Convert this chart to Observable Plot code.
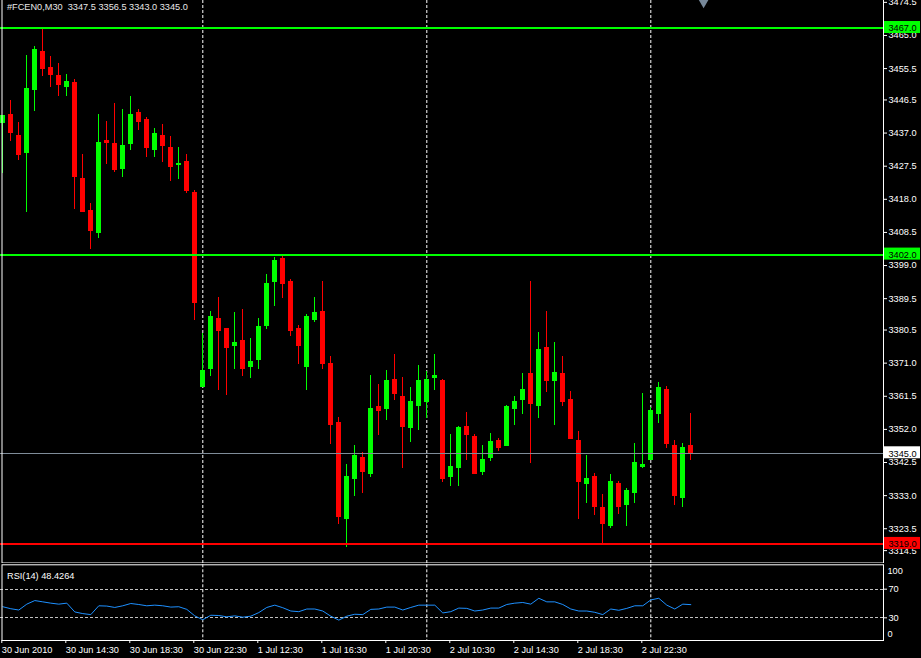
<!DOCTYPE html>
<html><head><meta charset="utf-8">
<script src="https://cdn.jsdelivr.net/npm/d3@7"></script>
<script src="https://cdn.jsdelivr.net/npm/@observablehq/plot@0.6"></script>
<style>
html,body{margin:0;padding:0;background:#000;}
#chart{width:921px;height:658px;background:#000;overflow:hidden;}
#chart svg{display:block;}
</style></head><body><div id="chart"></div>
<script>
// ---------- data ----------
const symbol = "#FCEN0,M30";
const opens = [3439.8,3442.3,3436.3,3431.1,3449.2,3460.4,3455.8,3453.5,3450.1,3451.5,
  3424.0,3414.8,3408.2,3434.9,3434.0,3426.6,3433.7,3442.9,3440.9,3432.0,
  3436.3,3432.9,3427.7,3428.8,3420.0,3364.0,3369.2,3383.8,3380.9,3375.8,
  3377.5,3369.8,3371.8,3381.5,3394.1,3401.0,3394.4,3380.9,3369.8,3383.2,
  3385.8,3370.9,3354.0,3326.2,3337.6,3343.9,3339.1,3358.6,3357.7,3366.3,
  3361.4,3352.3,3358.6,3359.8,3366.6,3366.0,3338.2,3340.8,3352.8,3350.0,
  3339.6,3343.7,3348.8,3347.1,3357.7,3360.3,3368.0,3358.6,3375.5,3365.7,
  3368.0,3360.6,3348.8,3336.2,3338.5,3329.6,3324.2,3336.5,3330.2,3333.6,
  3341.1,3343.1,3356.3,3363.4,3347.4,3332.2,3347.5];
const highs = [3442.0,3446.3,3440.0,3459.3,3461.8,3466.6,3459.0,3457.0,3453.8,3452.4,
  3430.9,3416.8,3442.3,3440.3,3445.5,3443.8,3447.5,3443.8,3441.5,3438.3,
  3439.5,3436.0,3432.9,3430.9,3420.4,3379.5,3385.8,3389.8,3381.0,3385.5,
  3386.4,3378.1,3383.8,3396.4,3401.3,3401.6,3395.0,3381.8,3385.0,3389.8,
  3394.4,3372.9,3355.4,3341.9,3347.4,3345.4,3367.5,3364.9,3368.9,3373.5,
  3366.9,3364.0,3370.3,3368.6,3373.5,3366.3,3350.5,3352.8,3356.9,3350.5,
  3347.4,3350.8,3349.4,3358.9,3361.4,3368.0,3394.4,3379.8,3385.8,3376.9,
  3372.9,3362.9,3351.4,3344.5,3339.4,3333.3,3339.1,3337.1,3335.1,3348.0,
  3362.3,3358.3,3365.5,3364.3,3348.8,3347.9,3356.5];
const lows = [3425.3,3434.6,3429.1,3414.3,3443.3,3453.2,3450.1,3447.5,3447.5,3415.1,
  3414.2,3403.6,3406.8,3428.0,3425.7,3424.3,3432.0,3437.7,3430.0,3430.0,
  3428.6,3423.1,3423.7,3419.7,3383.2,3364.0,3367.2,3363.2,3361.7,3369.2,
  3367.2,3366.6,3369.2,3380.7,3387.3,3389.6,3378.7,3370.6,3363.2,3382.7,
  3369.2,3347.7,3324.7,3318.1,3332.8,3333.6,3338.2,3350.3,3354.6,3360.3,
  3340.8,3348.2,3351.7,3355.2,3363.2,3336.8,3335.6,3335.6,3343.1,3339.0,
  3338.8,3342.8,3345.7,3347.1,3353.1,3356.3,3342.2,3355.1,3362.6,3353.1,
  3358.6,3349.1,3326.2,3330.7,3327.3,3319.0,3323.6,3327.6,3324.2,3330.7,
  3340.8,3343.1,3353.7,3346.5,3330.2,3329.6,3343.0];
const closes = [3442.0,3436.8,3430.6,3449.8,3461.0,3455.2,3453.5,3450.6,3451.8,3424.3,
  3414.2,3408.8,3434.3,3434.0,3426.3,3433.4,3442.3,3440.0,3432.6,3436.9,
  3433.1,3427.1,3428.3,3420.2,3388.1,3368.9,3384.4,3380.1,3375.2,3376.9,
  3369.2,3371.5,3381.5,3393.9,3400.5,3393.6,3380.1,3375.8,3384.4,3385.5,
  3370.6,3353.1,3326.7,3338.5,3344.5,3339.6,3358.0,3357.1,3366.0,3362.0,
  3352.6,3360.0,3366.0,3366.3,3367.5,3337.6,3341.4,3352.5,3350.3,3339.1,
  3343.4,3348.5,3346.5,3358.6,3360.0,3363.4,3359.1,3374.9,3365.7,3368.3,
  3359.7,3349.1,3336.8,3337.9,3329.6,3324.7,3337.1,3329.6,3334.5,3342.5,
  3341.9,3357.4,3364.0,3347.7,3332.7,3346.8,3345.0];
const rsiValues = [45.5,42.7,40.9,49.1,54.1,52.3,50.5,49.1,50.5,38.2,
  35.9,34.5,46.8,46.4,44.5,46.8,50.0,48.6,46.8,47.7,
  46.8,45.0,45.5,41.8,32.7,27.3,33.6,33.2,31.4,32.7,
  30.9,32.3,37.3,44.5,47.7,44.1,39.5,38.6,42.3,42.3,
  39.5,32.3,26.8,32.3,35.0,34.5,41.8,42.3,45.0,45.0,
  40.9,44.5,47.7,47.7,47.7,36.8,38.6,43.6,43.2,39.5,
  40.9,43.6,43.6,48.6,50.5,51.4,49.1,57.3,52.3,52.3,
  48.6,42.3,39.5,39.5,37.7,34.5,42.3,40.5,43.2,46.8,
  46.8,55.0,57.3,47.7,42.3,49.1,48.4];
const rsiPeriod = 14;
const rsiLastExact = "48.4264";
const timeTickBars = [0,8,16,24,32,40,48,56,64,72,80];
const timeTickLabels = ["30 Jun 2010","30 Jun 14:30","30 Jun 18:30","30 Jun 22:30","1 Jul 12:30",
  "1 Jul 16:30","1 Jul 20:30","2 Jul 10:30","2 Jul 14:30","2 Jul 18:30","2 Jul 22:30"];
const priceTicks = [3474.5,3465.0,3455.5,3446.5,3437.0,3427.5,3418.0,3408.5,3399.0,
  3389.5,3380.5,3371.0,3361.5,3352.0,3342.5,3333.0,3323.5];
const priceBottomLabel = [3314.5];
const resistanceLevels = [3467.0, 3402.0];
const supportLevels = [3319.0];
const daySeparatorBars = [25, 53, 81];
const rsiLevels = [70, 30];
const rsiTopLabel = [100];
const rsiBottomLabel = [0];
const shiftMarkerBar = [87.6];

// ---------- derived ----------
const bars = opens.map((o, i) => ({i, open: o, high: highs[i], low: lows[i], close: closes[i]}));
const last = bars[bars.length - 1];
const bid = [last.close];
const rsi = rsiValues.map((v, i) => ({i, v}));
const GREEN = "#00ff00", RED = "#ff0000";
const colorOf = d => d.close >= d.open ? GREEN : RED;
const fmt1 = d => d.toFixed(1);
const labelOf = new Map(timeTickBars.map((b, j) => [b, timeTickLabels[j]]));

const W = 921, MR = 38;
const barPx = 8, firstBarPx = 2.3;
const xDomain = [-firstBarPx / barPx, (W - MR - firstBarPx) / barPx];
const FONT = {background: "#000", color: "#fff", fontFamily: "Liberation Sans, Arial, sans-serif", fontSize: "9.2px"};

const mainH = 563;
const main = Plot.plot({
  width: W, height: mainH,
  marginLeft: 0, marginRight: MR, marginTop: 0, marginBottom: 0,
  style: FONT,
  x: {domain: xDomain, axis: null, label: null},
  y: {domain: [3313.53, 3475.03], label: null},
  marks: [
    Plot.ruleX(daySeparatorBars, {x: d => d, stroke: "#fff", strokeDasharray: "3,2"}),
    Plot.ruleX(bars, {x: "i", y1: "low", y2: "high", stroke: colorOf, shapeRendering: "crispEdges"}),
    Plot.rect(bars, {x1: d => d.i - 0.31, x2: d => d.i + 0.31, y1: "open", y2: "close", fill: colorOf, shapeRendering: "crispEdges"}),
    Plot.ruleY(bid, {y: d => d, stroke: "#7f8c99", shapeRendering: "crispEdges"}),
    Plot.ruleY(resistanceLevels, {y: d => d, stroke: GREEN, strokeWidth: 2, shapeRendering: "crispEdges"}),
    Plot.ruleY(supportLevels, {y: d => d, stroke: RED, strokeWidth: 2, shapeRendering: "crispEdges"}),
    Plot.frame({stroke: "#fff", insetTop: -3, insetLeft: 1.5, insetBottom: 0.5}),
    Plot.axisY(priceTicks, {anchor: "right", label: null, tickSize: 3, tickPadding: 2, tickFormat: fmt1, stroke: "#fff", fill: "#fff"}),
    Plot.axisY(priceBottomLabel, {anchor: "right", label: null, tickSize: 3, tickPadding: 2, tickFormat: fmt1, dy: -9.5, stroke: "#fff", fill: "#fff"}),
    Plot.rect(resistanceLevels, {y1: d => d, y2: d => d, insetTop: -7, insetBottom: -5, insetLeft: W - MR + 1, insetRight: -(MR - 1), fill: GREEN}),
    Plot.rect(supportLevels, {y1: d => d, y2: d => d, insetTop: -7, insetBottom: -5, insetLeft: W - MR + 1, insetRight: -(MR - 1), fill: RED}),
    Plot.rect(bid, {y1: d => d, y2: d => d, insetTop: -7, insetBottom: -5, insetLeft: W - MR + 1, insetRight: -(MR - 1), fill: "#fff"}),
    Plot.text([...resistanceLevels, ...supportLevels, ...bid], {y: d => d, text: fmt1, frameAnchor: "right", textAnchor: "start", dx: 5, fill: "#000"}),
    Plot.text([`${symbol}\u00a0 ${[last.open, last.high, last.low, last.close].map(fmt1).join(" ")}`],
      {text: d => d, frameAnchor: "top-left", lineAnchor: "top", textAnchor: "start", dx: 6.5, dy: 3, fill: "#e8e8e8"}),
    Plot.dot(shiftMarkerBar, {x: d => d, frameAnchor: "top", symbol: "triangle", rotate: 180, r: 5, fill: "#778899", stroke: "none", dy: 0})
  ]
});

const rsiH = 95;
const rsiPlot = Plot.plot({
  width: W, height: rsiH,
  marginLeft: 0, marginRight: MR, marginTop: 4.2, marginBottom: 19.2,
  style: FONT,
  x: {domain: xDomain, label: null},
  y: {domain: [0, 100], label: null},
  marks: [
    Plot.ruleY(rsiLevels, {y: d => d, stroke: "#c0c0c0", strokeDasharray: "3,2", shapeRendering: "crispEdges"}),
    Plot.ruleX(daySeparatorBars, {x: d => d, stroke: "#fff", strokeDasharray: "3,2", insetTop: -2.9, insetBottom: -1.2}),
    Plot.line(rsi, {x: "i", y: "v", stroke: "#1e90ff", strokeWidth: 1}),
    Plot.frame({stroke: "#fff", insetTop: -2.9, insetBottom: -1.2, insetLeft: 1.5}),
    Plot.axisY(rsiLevels, {anchor: "right", label: null, tickSize: 3, tickPadding: 2, stroke: "#fff", fill: "#fff"}),
    Plot.text(rsiTopLabel, {y: d => d, text: d => String(d), frameAnchor: "right", textAnchor: "start", dx: 4, dy: 3.5, fill: "#fff"}),
    Plot.text(rsiBottomLabel, {y: d => d, text: d => String(d), frameAnchor: "right", textAnchor: "start", dx: 4, dy: -5.5, fill: "#fff"}),
    Plot.text([`RSI(${rsiPeriod}) ${rsiLastExact}`], {text: d => d, frameAnchor: "top-left", lineAnchor: "top", textAnchor: "start", dx: 6.5, dy: 4.5, fill: "#fff"}),
    Plot.axisX(timeTickBars, {anchor: "bottom", label: null, tickSize: 3, tickPadding: 3, dy: 1.2, dx: -1, textAnchor: "start",
      tickFormat: d => labelOf.get(d), stroke: "#fff", fill: "#fff"})
  ]
});

const host = document.getElementById("chart");
host.appendChild(main);
host.appendChild(rsiPlot);
</script>
</body></html>
